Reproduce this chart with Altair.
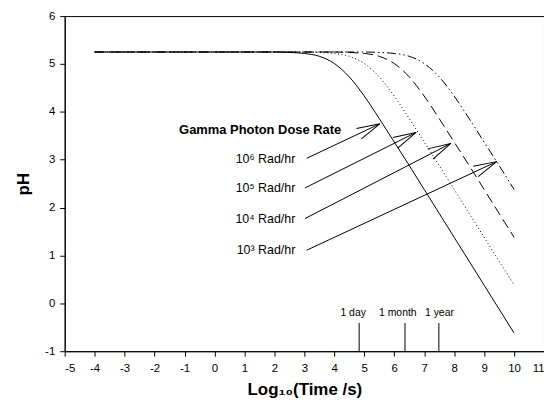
import math
import altair as alt
import pandas as pd

# ---------------- data ----------------
x_vals = [-4, -2, 0, 1, 2, 2.5, 3, 3.5, 4, 4.5, 5, 5.5, 6, 6.5, 7, 7.5, 8, 8.5, 9, 9.5, 10]
ph_1e6 = [5.25, 5.25, 5.25, 5.25, 5.25, 5.24, 5.22, 5.16, 5.01, 4.73, 4.33, 3.86, 3.37, 2.88, 2.38, 1.88, 1.38, 0.88, 0.38, -0.12, -0.62]
ph_1e5 = [5.25, 5.25, 5.25, 5.25, 5.25, 5.25, 5.25, 5.24, 5.22, 5.16, 5.01, 4.73, 4.33, 3.86, 3.37, 2.88, 2.38, 1.88, 1.38, 0.88, 0.39]
ph_1e4 = [5.25, 5.25, 5.25, 5.25, 5.25, 5.25, 5.25, 5.25, 5.25, 5.24, 5.22, 5.16, 5.01, 4.73, 4.33, 3.86, 3.37, 2.88, 2.38, 1.88, 1.38]
ph_1e3 = [5.25, 5.25, 5.25, 5.25, 5.25, 5.25, 5.25, 5.25, 5.25, 5.25, 5.25, 5.24, 5.22, 5.16, 5.01, 4.73, 4.33, 3.86, 3.37, 2.88, 2.38]

dose_labels = ["10\u2076 Rad/hr", "10\u2075 Rad/hr", "10\u2074 Rad/hr", "10\u00b3 Rad/hr"]
label_x = [2.70, 2.70, 2.70, 2.70]
label_y = [3.02, 2.40, 1.76, 1.11]
arrow_x1 = [3.08, 3.02, 3.02, 3.08]
arrow_y1 = [3.03, 2.41, 1.77, 1.11]
arrow_x2 = [5.52, 6.73, 7.89, 9.42]
arrow_y2 = [3.75, 3.57, 3.34, 2.96]

heading_text = ["Gamma Photon Dose Rate"]
heading_x = [4.23]
heading_y = [3.62]

time_names = ["1 day", "1 month", "1 year"]
time_x = [4.83, 6.36, 7.49]
time_label_x = [4.63, 6.12, 7.51]

x_ticks = list(range(-5, 12))
y_ticks = list(range(-1, 7))

# ---------------- layout ----------------
W, H = 482, 337
XMIN, XMAX, YMIN, YMAX = -5, 11, -1, 6
FONT = "Liberation Sans"

xs = alt.Scale(domain=[XMIN, XMAX], nice=False, zero=False)
ys = alt.Scale(domain=[YMIN, YMAX], nice=False, zero=False)

LABEL_EXPR = "datum.value < 0 ? '-' + abs(datum.value) : '' + datum.value"

x_axis = alt.Axis(values=x_ticks, title="Log\u2081\u2080(Time /s)", grid=False,
                  labelOverlap=False, labelExpr=LABEL_EXPR)
y_axis = alt.Axis(values=y_ticks, title="pH", grid=False,
                  labelOverlap=False, labelExpr=LABEL_EXPR)

base_x = alt.X("x:Q", scale=xs, axis=x_axis)
base_y = alt.Y("y:Q", scale=ys, axis=y_axis)
px = lambda f: alt.X(f, scale=xs, axis=x_axis)
py = lambda f: alt.Y(f, scale=ys, axis=y_axis)


def curve(vals, dash):
    df = pd.DataFrame({"x": x_vals, "y": vals})
    kw = dict(color="black", strokeWidth=1, interpolate="monotone", clip=True)
    if dash:
        kw["strokeDash"] = dash
    return alt.Chart(df).mark_line(**kw).encode(x=base_x, y=base_y)


curves = [
    curve(ph_1e6, None),
    curve(ph_1e5, [1, 2.6]),
    curve(ph_1e4, [10, 5]),
    curve(ph_1e3, [9, 3, 1.5, 3, 1.5, 3]),
]

# arrows
px_x = W / (XMAX - XMIN)
px_y = H / (YMAX - YMIN)
angles = []
for a, b, c, d in zip(arrow_x1, arrow_y1, arrow_x2, arrow_y2):
    ang = math.degrees(math.atan2(-(d - b) * px_y, (c - a) * px_x))
    angles.append(ang % 360)

arrows_df = pd.DataFrame({"x": arrow_x1, "y": arrow_y1, "x2": arrow_x2, "y2": arrow_y2, "angle": angles})

shafts = alt.Chart(arrows_df).mark_rule(color="black", strokeWidth=1).encode(
    x=px("x:Q"), y=py("y:Q"), x2="x2:Q", y2="y2:Q"
)
heads = alt.Chart(arrows_df).mark_point(
    shape="M-2,-0.5L0,0L-2,0.5", filled=False, stroke="black", strokeWidth=1, size=540, opacity=1
).encode(
    x=px("x2:Q"), y=py("y2:Q"), angle=alt.Angle("angle:Q", scale=None)
)

labels_df = pd.DataFrame({"x": label_x, "y": label_y, "t": dose_labels})
labels = alt.Chart(labels_df).mark_text(
    align="right", baseline="middle", font=FONT, fontSize=12.5, color="black"
).encode(x=px("x:Q"), y=py("y:Q"), text="t:N")

heading_df = pd.DataFrame({"x": heading_x, "y": heading_y, "t": heading_text})
heading = alt.Chart(heading_df).mark_text(
    align="right", baseline="middle", font=FONT, fontSize=13, fontWeight="bold", color="black"
).encode(x=px("x:Q"), y=py("y:Q"), text="t:N")

time_df = pd.DataFrame({"x": time_x, "lx": time_label_x, "t": time_names})
time_lines = alt.Chart(time_df).mark_rule(color="black", strokeWidth=1).encode(
    x=px("x:Q"), y=alt.datum(-1), y2=alt.datum(-0.41)
)
time_text = alt.Chart(time_df).mark_text(
    align="center", baseline="middle", font=FONT, fontSize=10.5, color="black"
).encode(x=px("lx:Q"), y=alt.datum(-0.2), text="t:N")

chart = alt.layer(
    time_lines, time_text, *curves, shafts, heads, labels, heading
).properties(
    width=W, height=H,
    autosize=alt.AutoSizeParams(type="none"),
    padding={"left": 57, "top": 7, "right": 0, "bottom": 60},
).configure_view(
    stroke="black", strokeWidth=1
).configure_axis(
    domainColor="black", tickColor="black", tickSize=5, labelColor="black",
    labelFont=FONT, labelFontSize=11.5, titleFont=FONT, titleFontSize=17,
    titleFontWeight="bold", titleColor="black", labelOverlap=False,
).configure_axisX(
    labelPadding=6, titlePadding=8,
).configure_axisY(
    labelPadding=5, titlePadding=12,
)

chart.save("out.html", embed_options={"renderer": "svg", "actions": False})
